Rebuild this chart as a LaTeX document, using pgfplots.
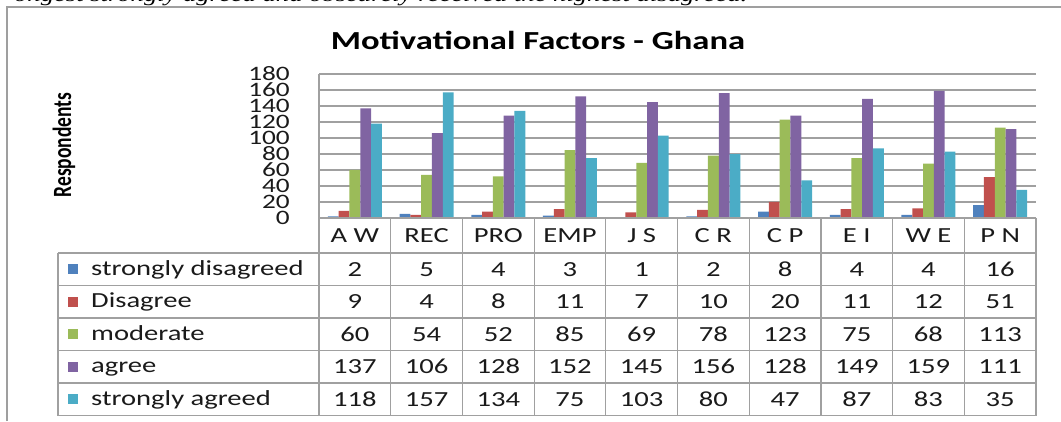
\documentclass[border=0pt]{standalone}
\usepackage{fontspec}
\setmainfont{Carlito}[FakeStretch=1.33]
\newfontfamily\plainfont{Carlito}
\newfontfamily\topfont{Liberation Serif}[FakeStretch=1.33]
\usepackage{graphicx}
\usepackage{pgfplots}
\usepackage{pgfplotstable}
\pgfplotsset{compat=1.18}
\definecolor{colSD}{HTML}{4F81BD}
\definecolor{colD}{HTML}{C0504D}
\definecolor{colM}{HTML}{9BBB59}
\definecolor{colA}{HTML}{8064A2}
\definecolor{colSA}{HTML}{4BACC6}
\definecolor{gridc}{HTML}{A0A0A0}
\definecolor{txt}{HTML}{1A1A1A}

\pgfplotstableread{
x sd d m a sa
0 2 9 60 137 118
1 5 4 54 106 157
2 4 8 52 128 134
3 3 11 85 152 75
4 1 7 69 145 103
5 2 10 78 156 80
6 8 20 123 128 47
7 4 11 75 149 87
8 4 12 68 159 83
9 16 51 113 111 35
}\data

\begin{document}
\begin{tikzpicture}[x=1pt,y=1pt]
\useasboundingbox (0,0) rectangle (1061,421);
\begin{scope}
\clip (0,0) rectangle (1061,421);
\node[anchor=base west, inner sep=0pt, text=black, font=\topfont\itshape\fontsize{20}{24}\selectfont] at (14,419.5) {ongest strongly agreed and obscurely received the highest disagreed.};
\end{scope}
\draw[line width=2pt, color=gray!75] (7,0) -- (7,414) -- (1061,414);
\node[text=black, font=\bfseries\fontsize{26}{30}\selectfont] at (538,381) {Motivational Factors - Ghana};
\node[rotate=90, text=black, font=\plainfont\bfseries\fontsize{19.5}{22}\selectfont] at (64,276) {\scalebox{1}[1.35]{Respondents}};

\begin{axis}[at={(319pt,203pt)}, anchor=south west, scale only axis,
  width=717pt, height=144pt,
  ymin=0, ymax=180, xmin=-0.5, xmax=9.5,
  ytick={0,20,...,180}, xtick=\empty,
  axis line style={draw=none},
  major tick length=0pt,
  ymajorgrids, grid style={gridc, line width=1.2pt},
  /pgf/number format/assume math mode=true,
  yticklabel style={font=\fontsize{20.5}{21}\selectfont, text=txt, anchor=east, inner sep=0pt, xshift=-29pt},
  ybar=0pt, bar width=10.8pt,
  clip=false]
\addplot[fill=colSD, draw=none] table[x=x,y=sd]{\data};
\addplot[fill=colD, draw=none] table[x=x,y=d]{\data};
\addplot[fill=colM, draw=none] table[x=x,y=m]{\data};
\addplot[fill=colA, draw=none] table[x=x,y=a]{\data};
\addplot[fill=colSA, draw=none] table[x=x,y=sa]{\data};
\end{axis}

% data table grid
\begin{scope}[gridc, line width=1.2pt]
\draw (319,203) -- (1036,203);
\foreach \yy in {168,135.5,103,70.5,38,5.5} { \draw (58,\yy) -- (1036,\yy); }
\draw (58,168) -- (58,5.5);
\draw (319,347) -- (319,5.5);
\foreach \k in {1,...,10} { \draw ({319+71.7*\k},203) -- ({319+71.7*\k},5.5); }
\end{scope}

\tikzset{cell/.style={text=txt, anchor=base, inner sep=0pt, font=\fontsize{21.5}{24}\selectfont}}

\foreach \lab [count=\i from 0] in {A W,REC,PRO,EMP,J S,C R,C P,E I,W E,P N} {
  \node[cell] at ({354.85+71.7*\i},{185-7}) {\lab};
}

\foreach \lab/\col/\r in {strongly disagreed/colSD/0, Disagree/colD/1, moderate/colM/2, agree/colA/3, strongly agreed/colSA/4} {
  \fill[fill=\col] (68,{152-32.5*\r-5}) rectangle (78,{152-32.5*\r+5});
  \node[cell, anchor=base west] at (91,{152-32.5*\r-6}) {\lab};
}

\foreach \i in {0,...,9} {
  \foreach \c/\r in {sd/0,d/1,m/2,a/3,sa/4} {
    \pgfplotstablegetelem{\i}{\c}\of\data
    \node[cell] at ({354.85+71.7*\i},{152-32.5*\r-7}) {\pgfplotsretval};
  }
}
\end{tikzpicture}
\end{document}
